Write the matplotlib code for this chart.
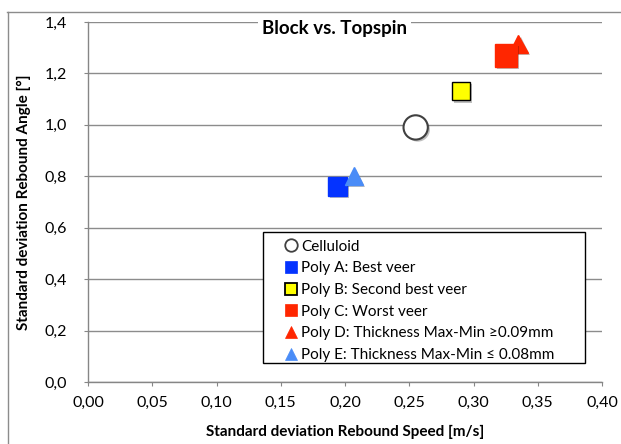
import matplotlib
matplotlib.use("Agg")
import matplotlib.pyplot as plt
import matplotlib.patheffects as pe
from matplotlib.lines import Line2D
from matplotlib.patches import Rectangle

plt.rcParams['font.family'] = ['Lato', 'DejaVu Sans']

# データ
labels = ["Celluloid", "Poly A: Best veer", "Poly B: Second best veer",
          "Poly C: Worst veer", "Poly D: Thickness Max-Min \u22650.09mm",
          "Poly E: Thickness Max-Min \u2264 0.08mm"]
speed_sd = [0.255, 0.194, 0.290, 0.325, 0.335, 0.207]
angle_sd = [0.99, 0.76, 1.13, 1.27, 1.315, 0.80]

xticks = [0.00, 0.05, 0.10, 0.15, 0.20, 0.25, 0.30, 0.35, 0.40]
yticks = [0.0, 0.2, 0.4, 0.6, 0.8, 1.0, 1.2, 1.4]

markers = ["o", "s", "s", "s", "^", "^"]
faces = ["white", "#0433FF", "#FFFF00", "#FF2600", "#FF2600", "#4A8CF7"]
edges = ["#404040", "#0433FF", "black", "#FF2600", "#FF2600", "#4A8CF7"]
sizes = [17.5, 13.5, 13, 16, 13, 13]
zorders = [5, 5, 5, 6, 4, 5]

fig = plt.figure(figsize=(6.21, 4.44), dpi=100)
ax = fig.add_axes([88/621, 1-382/444, 514/621, 360/444])

shadow = [pe.SimplePatchShadow(offset=(1.5, -1.5), shadow_rgbFace="black", alpha=0.25), pe.Normal()]
for x, y, m, fc, ec, s, z in zip(speed_sd, angle_sd, markers, faces, edges, sizes, zorders):
    ax.plot([x], [y], linestyle="none", marker=m, markersize=s, markerfacecolor=fc,
            markeredgecolor=ec, markeredgewidth=1.5 if m == "o" else 1.0,
            zorder=z, path_effects=shadow)

ax.set_xlim(0, 0.40)
ax.set_ylim(0, 1.4)
ax.set_xticks(xticks)
ax.set_yticks(yticks)
ax.set_xticklabels([f"{v:.2f}".replace(".", ",") for v in xticks])
ax.set_yticklabels([f"{v:.1f}".replace(".", ",") for v in yticks])
ax.tick_params(direction="out", length=3, color="#868686", labelsize=11.5)
ax.tick_params(axis="x", pad=7)
ax.tick_params(axis="y", pad=12)
ax.grid(axis="y", color="#8c8c8c", linewidth=1)
ax.set_axisbelow(True)
for sp in ["top", "right"]:
    ax.spines[sp].set_visible(False)
for sp in ["left", "bottom"]:
    ax.spines[sp].set_color("#868686")
    ax.spines[sp].set_linewidth(1)

ax.set_xlabel("Standard deviation Rebound Speed [m/s]", fontsize=11, fontweight="bold", labelpad=11)
ax.set_ylabel("Standard deviation Rebound Angle [\u00b0]", fontsize=11, fontweight="bold", labelpad=10)

ax.text(0.48, 0.983, "Block vs. Topspin", transform=ax.transAxes, ha="center", va="center",
        fontsize=13.5, fontweight="bold", zorder=10,
        bbox=dict(facecolor="white", edgecolor="none", pad=3))

# 凡例の枠（Excel風に幅広）
ax.add_patch(Rectangle((0.3405, 0.0528), 0.967 - 0.3405, 0.4167 - 0.0528, transform=ax.transAxes,
                       facecolor="white", edgecolor="black", linewidth=1, zorder=19))

handles = [Line2D([], [], linestyle="none", marker=m, markersize=9, markerfacecolor=fc,
                  markeredgecolor=ec, markeredgewidth=1.3 if fc in ("white", "#FFFF00") else 0.5)
           for m, fc, ec in zip(markers, faces, edges)]
leg = ax.legend(handles, labels, loc="upper left", bbox_to_anchor=(0.380, 0.395),
                borderaxespad=0, frameon=False, fontsize=11, handlelength=1.0,
                handletextpad=0.15, labelspacing=0.5, borderpad=0)
leg.set_zorder(20)

# 外枠
fig.add_artist(Line2D([7.5/621, 7.5/621], [0, 1-12/444], color="#8c8c8c", linewidth=1, transform=fig.transFigure))
fig.add_artist(Line2D([7/621, 1], [1-12.5/444, 1-12.5/444], color="#8c8c8c", linewidth=1, transform=fig.transFigure))

fig.savefig("out.png", dpi=100)
